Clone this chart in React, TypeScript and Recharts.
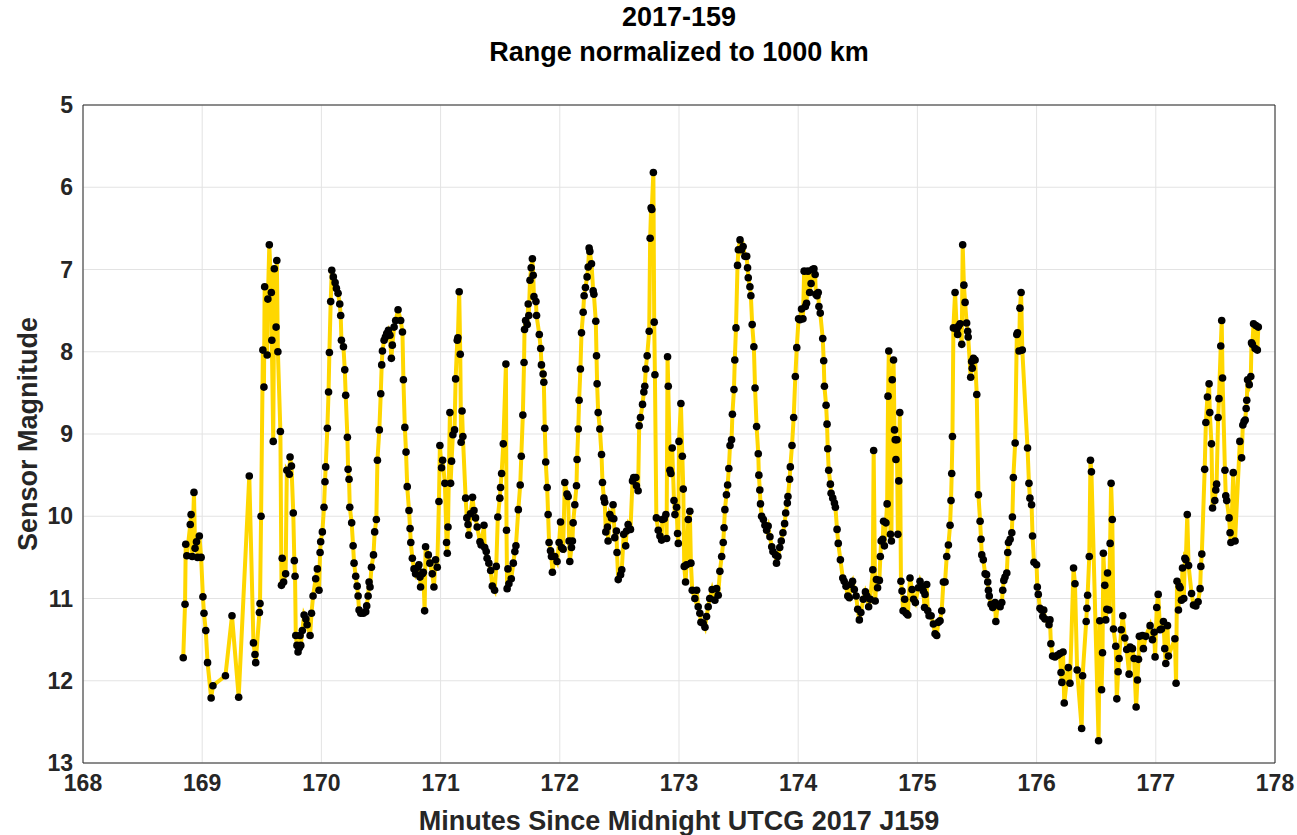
import React from 'react';
import { LineChart, Line, XAxis, YAxis, CartesianGrid, Label } from 'recharts';

// minutes since midnight, sensor magnitude
const samples169 = [
  [168.841, 11.72], [168.856, 11.07], [168.862, 10.34], [168.871, 10.48], [168.900, 10.10], [168.907, 9.98],
  [168.916, 10.49], [168.931, 9.71], [168.940, 10.39], [168.952, 10.31], [168.961, 10.50], [168.976, 10.24],
  [168.991, 10.50], [169.006, 10.98], [169.015, 11.18], [169.030, 11.39], [169.045, 11.78], [169.075, 12.21],
  [169.090, 12.06], [169.195, 11.94], [169.250, 11.21], [169.306, 12.20], [169.395, 9.51], [169.430, 11.54],
  [169.443, 11.68], [169.449, 11.78], [169.480, 11.17], [169.485, 11.06], [169.494, 10.00], [169.509, 7.98],
  [169.518, 8.43], [169.524, 7.21], [169.545, 8.04], [169.551, 7.36], [169.563, 6.70], [169.580, 7.28],
  [169.584, 7.86], [169.596, 9.09], [169.605, 6.99], [169.620, 7.70], [169.626, 6.89], [169.635, 8.00],
  [169.656, 8.97], [169.665, 10.84], [169.671, 10.51], [169.683, 10.80], [169.700, 10.70], [169.710, 9.44],
  [169.731, 9.49], [169.737, 9.28], [169.749, 9.39], [169.764, 9.96], [169.773, 10.54], [169.779, 10.73],
  [169.785, 11.45], [169.795, 11.57], [169.804, 11.65], [169.815, 11.60], [169.821, 11.45], [169.827, 11.57],
  [169.840, 11.39], [169.855, 11.20], [169.870, 11.25], [169.880, 11.32], [169.905, 11.45], [169.917, 11.18],
  [169.930, 10.97], [169.952, 10.76], [169.966, 10.64], [169.980, 10.90], [169.989, 10.44], [169.994, 10.31],
];

const samples170 = [
  [170.008, 10.19], [170.022, 9.89], [170.030, 9.58], [170.036, 9.40], [170.050, 8.93], [170.060, 8.49],
  [170.067, 8.01], [170.078, 7.39], [170.087, 7.01], [170.100, 7.09], [170.115, 7.16], [170.126, 7.23],
  [170.140, 7.29], [170.154, 7.42], [170.162, 7.56], [170.168, 7.86], [170.185, 7.94], [170.196, 8.22],
  [170.204, 8.53], [170.218, 9.04], [170.224, 9.43], [170.232, 9.55], [170.238, 9.89], [170.254, 10.08],
  [170.266, 10.36], [170.274, 10.57], [170.288, 10.73], [170.300, 10.85], [170.308, 10.97], [170.316, 11.14],
  [170.330, 11.18], [170.352, 11.18], [170.372, 11.16], [170.380, 11.09], [170.392, 10.97], [170.400, 10.80],
  [170.408, 10.86], [170.420, 10.62], [170.437, 10.47], [170.447, 10.19], [170.461, 10.04], [170.470, 9.32],
  [170.486, 8.95], [170.498, 8.51], [170.506, 8.16], [170.512, 7.99], [170.526, 7.86], [170.537, 7.82],
  [170.548, 7.78], [170.562, 7.74], [170.575, 7.80], [170.587, 8.08], [170.595, 7.92], [170.610, 7.70],
  [170.623, 7.62], [170.643, 7.49], [170.665, 7.62], [170.680, 7.76], [170.688, 8.34], [170.700, 8.92],
  [170.710, 9.22], [170.720, 9.64], [170.735, 9.93], [170.744, 10.15], [170.750, 10.32], [170.763, 10.51],
  [170.777, 10.64], [170.790, 10.70], [170.810, 10.62], [170.818, 10.59], [170.827, 10.74], [170.832, 10.86],
  [170.847, 10.70], [170.855, 10.68], [170.866, 11.15], [170.874, 10.37], [170.897, 10.47], [170.910, 10.57],
  [170.930, 10.70], [170.944, 10.86], [170.958, 10.53], [170.972, 10.62], [170.986, 9.82], [170.994, 9.14],
];

const samples171 = [
  [171.008, 9.41], [171.017, 9.32], [171.036, 9.60], [171.050, 10.32], [171.056, 10.45], [171.062, 10.13],
  [171.078, 8.74], [171.084, 9.60], [171.092, 9.33], [171.103, 9.01], [171.117, 8.95], [171.126, 8.33],
  [171.140, 7.86], [171.145, 7.83], [171.156, 7.27], [171.165, 8.03], [171.172, 9.10], [171.180, 8.72],
  [171.187, 9.03], [171.210, 9.78], [171.220, 10.02], [171.230, 10.10], [171.237, 10.23], [171.250, 9.97],
  [171.268, 9.77], [171.280, 9.93], [171.293, 10.02], [171.307, 10.13], [171.330, 10.31], [171.340, 10.35],
  [171.364, 10.11], [171.370, 10.38], [171.383, 10.43], [171.390, 10.51], [171.405, 10.57], [171.420, 10.66],
  [171.434, 10.85], [171.453, 10.90], [171.467, 10.61], [171.480, 10.01], [171.497, 9.78], [171.503, 9.65],
  [171.512, 9.48], [171.526, 9.12], [171.548, 8.15], [171.553, 10.17], [171.558, 10.88], [171.565, 10.64],
  [171.573, 10.82], [171.593, 10.76], [171.610, 10.57], [171.623, 10.43], [171.632, 10.36], [171.652, 9.92],
  [171.668, 9.62], [171.677, 9.27], [171.690, 8.77], [171.700, 8.13], [171.704, 7.73], [171.713, 7.62],
  [171.727, 7.67], [171.735, 7.42], [171.740, 7.56], [171.750, 7.13], [171.760, 6.98], [171.770, 6.87],
  [171.777, 7.07], [171.783, 7.33], [171.800, 7.39], [171.805, 7.56], [171.828, 7.79], [171.840, 7.96],
  [171.846, 8.16], [171.860, 8.27], [171.866, 8.37], [171.874, 8.93], [171.882, 9.34], [171.894, 9.65],
  [171.902, 9.98], [171.910, 10.32], [171.922, 10.42], [171.930, 10.49], [171.938, 10.68], [171.958, 10.49],
  [171.977, 10.55], [171.994, 10.32],
];

const samples172 = [
  [172.006, 10.07], [172.014, 10.38], [172.028, 10.40], [172.042, 9.59], [172.060, 9.73], [172.070, 9.76],
  [172.078, 10.30], [172.084, 10.55], [172.098, 10.38], [172.106, 10.30], [172.112, 10.08], [172.126, 9.86],
  [172.140, 9.63], [172.145, 9.31], [172.155, 8.94], [172.162, 8.59], [172.173, 8.21], [172.182, 7.77],
  [172.196, 7.52], [172.204, 7.32], [172.215, 7.22], [172.229, 7.09], [172.238, 6.97], [172.246, 6.74],
  [172.252, 6.78], [172.266, 6.93], [172.280, 7.26], [172.286, 7.30], [172.302, 7.63], [172.308, 8.05],
  [172.313, 8.39], [172.322, 8.74], [172.336, 8.94], [172.350, 9.25], [172.358, 9.59], [172.370, 9.78],
  [172.377, 9.83], [172.386, 10.19], [172.400, 10.13], [172.405, 10.30], [172.420, 9.98], [172.433, 10.02],
  [172.447, 9.86], [172.453, 10.03], [172.461, 10.26], [172.475, 10.18], [172.480, 10.44], [172.490, 10.77],
  [172.510, 10.71], [172.520, 10.65], [172.536, 10.22], [172.553, 10.36], [172.560, 10.18], [172.573, 10.10],
  [172.593, 10.16], [172.610, 9.57], [172.620, 9.53], [172.638, 9.53], [172.643, 9.63], [172.657, 9.69],
  [172.666, 8.90], [172.677, 8.80], [172.694, 8.64], [172.705, 8.49], [172.713, 8.42], [172.721, 8.21],
  [172.733, 8.05], [172.750, 7.75], [172.758, 6.62], [172.766, 6.25], [172.772, 6.27], [172.785, 5.82],
  [172.792, 7.64], [172.798, 8.28], [172.810, 10.02], [172.826, 10.17], [172.840, 10.24], [172.854, 10.29],
  [172.860, 10.04], [172.876, 10.03], [172.890, 9.98], [172.896, 10.27], [172.904, 8.06], [172.910, 8.42],
  [172.924, 9.44], [172.932, 9.48], [172.943, 9.17], [172.958, 9.81], [172.966, 9.98], [172.980, 9.89],
  [172.988, 10.21], [172.994, 10.33],
];

const samples173 = [
  [173.000, 9.09], [173.016, 8.63], [173.028, 9.27], [173.036, 9.67], [173.044, 10.61], [173.055, 10.80],
  [173.063, 10.59], [173.078, 10.04], [173.091, 9.94], [173.100, 10.57], [173.111, 10.90], [173.133, 11.00],
  [173.148, 10.90], [173.161, 11.10], [173.175, 11.18], [173.184, 11.29], [173.203, 11.30], [173.218, 11.35],
  [173.231, 11.22], [173.245, 11.10], [173.258, 11.00], [173.278, 10.89], [173.301, 11.02], [173.315, 10.88],
  [173.329, 10.96], [173.343, 10.67], [173.358, 10.49], [173.371, 10.32], [173.378, 10.14], [173.385, 9.92],
  [173.398, 9.74], [173.408, 9.62], [173.418, 9.42], [173.428, 9.14], [173.441, 9.07], [173.448, 8.76],
  [173.461, 8.46], [173.468, 8.10], [173.478, 7.71], [173.491, 6.95], [173.498, 6.76], [173.512, 6.64],
  [173.524, 6.76], [173.538, 6.72], [173.553, 6.84], [173.568, 6.84], [173.575, 6.98], [173.581, 7.10],
  [173.595, 7.21], [173.603, 7.32], [173.614, 7.67], [173.628, 7.94], [173.638, 8.44], [173.651, 8.91],
  [173.665, 9.24], [173.670, 9.50], [173.678, 9.68], [173.684, 9.85], [173.693, 10.00], [173.708, 10.04],
  [173.721, 10.11], [173.735, 10.17], [173.748, 10.12], [173.763, 10.25], [173.778, 10.37], [173.788, 10.43],
  [173.810, 10.47], [173.818, 10.57], [173.830, 10.49], [173.845, 10.38], [173.858, 10.30], [173.872, 10.20],
  [173.886, 10.09], [173.895, 9.96], [173.909, 9.84], [173.914, 9.76], [173.928, 9.55], [173.934, 9.40],
  [173.948, 9.14], [173.962, 8.80], [173.976, 8.30], [173.988, 7.95],
];

const samples174 = [
  [174.003, 7.60], [174.014, 7.61], [174.028, 7.48], [174.040, 7.60], [174.050, 7.02], [174.060, 7.45],
  [174.070, 7.41], [174.082, 7.02], [174.096, 7.28], [174.108, 7.17], [174.120, 7.00], [174.132, 6.99],
  [174.142, 7.06], [174.148, 7.30], [174.158, 7.32], [174.168, 7.28], [174.174, 7.45], [174.185, 7.53],
  [174.206, 7.84], [174.214, 8.11], [174.220, 8.42], [174.234, 8.65], [174.242, 8.88], [174.248, 9.18],
  [174.256, 9.44], [174.270, 9.61], [174.276, 9.72], [174.290, 9.78], [174.304, 9.84], [174.312, 9.89],
  [174.326, 10.16], [174.336, 10.33], [174.354, 10.53], [174.374, 10.75], [174.386, 10.79], [174.401, 10.85],
  [174.416, 10.97], [174.429, 10.99], [174.443, 10.83], [174.456, 10.79], [174.471, 10.89], [174.486, 10.97],
  [174.499, 11.13], [174.513, 11.26], [174.526, 11.17], [174.546, 11.01], [174.564, 10.92], [174.576, 10.97],
  [174.591, 11.10], [174.604, 11.01], [174.626, 10.65], [174.633, 9.20], [174.646, 11.03], [174.656, 10.77],
  [174.666, 10.87], [174.681, 10.78], [174.689, 10.49], [174.696, 10.30], [174.709, 10.28], [174.716, 10.06],
  [174.723, 10.36], [174.736, 10.08], [174.746, 9.85], [174.754, 8.54], [174.760, 7.99], [174.774, 10.22],
  [174.782, 10.30], [174.789, 8.34], [174.800, 8.10], [174.808, 8.95], [174.814, 9.07], [174.820, 9.31],
  [174.828, 9.07], [174.836, 10.22], [174.844, 9.57], [174.852, 8.74], [174.862, 10.79], [174.871, 10.91],
  [174.880, 11.15], [174.893, 11.01], [174.906, 11.18], [174.920, 11.20], [174.938, 10.75], [174.955, 10.89],
  [174.968, 11.01], [174.983, 11.05],
];

const samples175 = [
  [175.008, 10.87], [175.022, 10.79], [175.036, 10.85], [175.050, 10.91], [175.060, 11.11], [175.064, 10.95],
  [175.078, 10.83], [175.087, 11.15], [175.098, 11.21], [175.115, 11.21], [175.134, 11.31], [175.148, 11.43],
  [175.162, 11.45], [175.176, 11.29], [175.190, 11.27], [175.204, 11.15], [175.218, 10.80], [175.232, 10.80],
  [175.246, 10.49], [175.260, 10.35], [175.274, 10.11], [175.282, 9.81], [175.288, 9.48], [175.294, 9.03],
  [175.302, 7.71], [175.316, 7.28], [175.330, 7.73], [175.338, 7.79], [175.344, 7.69], [175.358, 7.66],
  [175.372, 7.91], [175.380, 6.70], [175.390, 7.19], [175.400, 7.40], [175.413, 7.65], [175.422, 7.75],
  [175.426, 7.82], [175.447, 8.31], [175.455, 8.12], [175.460, 8.20], [175.470, 8.08], [175.484, 8.10],
  [175.498, 8.52], [175.512, 9.74], [175.526, 10.06], [175.534, 10.28], [175.540, 10.47], [175.553, 10.53],
  [175.568, 10.70], [175.580, 10.71], [175.590, 10.80], [175.596, 10.90], [175.603, 10.97], [175.618, 11.07],
  [175.632, 11.11], [175.652, 11.05], [175.658, 11.28], [175.674, 11.08], [175.694, 11.10], [175.708, 11.05],
  [175.716, 10.90], [175.725, 10.78], [175.735, 10.74], [175.750, 10.69], [175.758, 10.44], [175.764, 10.32],
  [175.778, 10.28], [175.792, 10.20], [175.797, 10.01], [175.805, 9.53], [175.820, 9.11], [175.834, 7.79],
  [175.840, 7.77], [175.853, 7.99], [175.860, 7.47], [175.870, 7.28], [175.880, 7.98], [175.924, 9.17],
  [175.936, 9.60], [175.944, 9.78], [175.958, 9.86], [175.966, 10.24], [175.978, 10.56],
];

const samples176 = [
  [176.000, 10.59], [176.006, 10.86], [176.014, 10.95], [176.028, 11.12], [176.042, 11.14], [176.052, 11.22],
  [176.060, 11.14], [176.070, 11.25], [176.104, 11.32], [176.112, 11.26], [176.120, 11.55], [176.134, 11.70],
  [176.154, 11.71], [176.176, 11.69], [176.196, 11.67], [176.205, 11.90], [176.212, 12.02], [176.222, 11.65],
  [176.232, 12.27], [176.266, 11.84], [176.280, 12.03], [176.310, 10.63], [176.322, 10.82], [176.340, 11.87],
  [176.378, 12.58], [176.386, 11.94], [176.416, 11.28], [176.422, 11.12], [176.428, 10.96], [176.442, 10.49],
  [176.452, 9.32], [176.460, 9.46], [176.520, 12.73], [176.530, 11.27], [176.545, 12.11], [176.553, 11.66],
  [176.560, 10.45], [176.572, 10.84], [176.580, 11.26], [176.589, 11.13], [176.595, 10.69], [176.607, 11.14],
  [176.617, 10.33], [176.625, 9.60], [176.635, 10.04], [176.645, 11.37], [176.664, 11.58], [176.673, 12.22],
  [176.684, 11.89], [176.692, 11.73], [176.710, 11.38], [176.723, 11.21], [176.740, 11.48], [176.756, 11.62],
  [176.776, 11.92], [176.785, 11.59], [176.804, 11.61], [176.818, 11.73], [176.835, 12.32], [176.846, 11.99],
  [176.855, 11.74], [176.862, 11.46], [176.888, 11.45], [176.896, 11.61], [176.916, 11.46], [176.952, 11.33],
  [176.972, 11.50], [176.986, 11.41], [176.994, 11.71],
];

const samples177 = [
  [177.008, 11.11], [177.020, 10.95], [177.036, 11.38], [177.048, 11.37], [177.064, 11.28], [177.075, 11.61],
  [177.084, 11.79], [177.098, 11.33], [177.106, 11.70], [177.160, 11.49], [177.170, 12.03], [177.178, 10.79],
  [177.190, 11.14], [177.196, 10.85], [177.204, 10.87], [177.215, 11.02], [177.224, 10.63], [177.235, 11.00],
  [177.244, 10.51], [177.252, 10.53], [177.264, 9.98], [177.275, 10.60], [177.300, 10.94], [177.316, 11.08],
  [177.336, 11.09], [177.355, 11.04], [177.372, 10.88], [177.378, 10.61], [177.386, 10.46], [177.410, 9.43],
  [177.420, 8.86], [177.433, 8.55], [177.447, 8.39], [177.453, 8.74], [177.467, 9.12], [177.476, 9.90],
  [177.495, 9.81], [177.503, 9.68], [177.510, 9.61], [177.523, 8.80], [177.530, 8.57], [177.545, 7.93],
  [177.553, 7.62], [177.560, 8.32], [177.580, 9.44], [177.587, 9.75], [177.595, 9.81], [177.615, 10.02],
  [177.623, 10.20], [177.630, 10.32], [177.650, 9.47], [177.665, 10.30], [177.705, 9.09], [177.720, 9.29],
  [177.730, 8.89], [177.740, 8.85], [177.750, 8.83], [177.758, 8.69], [177.763, 8.59], [177.770, 8.34],
  [177.784, 8.40], [177.797, 8.30], [177.803, 7.89], [177.810, 7.91], [177.820, 7.66], [177.833, 7.96],
  [177.840, 7.68], [177.852, 7.98], [177.860, 7.70],
];

const xTicks = [168, 169, 170, 171, 172, 173, 174, 175, 176, 177, 178];
const yTicks = [5, 6, 7, 8, 9, 10, 11, 12, 13];

const titleLines = ['2017-159', 'Range normalized to 1000 km'];
const xLabel = 'Minutes Since Midnight UTCG 2017 J159';
const yLabel = 'Sensor Magnitude';

const data = [
  ...samples169, ...samples170, ...samples171, ...samples172, ...samples173,
  ...samples174, ...samples175, ...samples176, ...samples177,
].map(([t, m]) => ({ t, m }));

const FONT = '"Liberation Sans", Arial, Helvetica, sans-serif';
const INK = '#262626';
const tickStyle = { fontSize: 23, fontWeight: 700, fill: INK, fontFamily: FONT };
const labelStyle = { fontSize: 27, fontWeight: 700, fill: INK, fontFamily: FONT, textAnchor: 'middle' as const };

export default function App() {
  return (
    <div style={{ position: 'absolute', left: 0, top: 0, width: 1297, height: 835, background: '#fff', fontFamily: FONT }}>
      {titleLines.map((line, i) => (
        <div
          key={line}
          style={{
            position: 'absolute', left: 83, width: 1192, top: 4 + i * 35, textAlign: 'center',
            fontSize: 27, lineHeight: '27px', fontWeight: 700, color: '#000',
          }}
        >
          {line}
        </div>
      ))}
      <LineChart width={1297} height={835} data={data} margin={{ top: 105, right: 22, bottom: 0, left: 0 }}>
        <CartesianGrid xAxisId="main" yAxisId="main" stroke="#e3e3e3" strokeWidth={1} />
        <XAxis
          xAxisId="main" dataKey="t" type="number" domain={[168, 178]} ticks={xTicks} interval={0}
          allowDataOverflow height={72} axisLine={false} tickLine={false} tickSize={0} tickMargin={12} tick={tickStyle}
        >
          <Label value={xLabel} position="insideBottom" offset={5} style={labelStyle} />
        </XAxis>
        <YAxis
          yAxisId="main" type="number" domain={[5, 13]} reversed ticks={yTicks} interval={0}
          allowDataOverflow width={83} axisLine={false} tickLine={false} tickSize={0} tickMargin={10} tick={tickStyle}
        >
          <Label value={yLabel} angle={-90} position="insideLeft" offset={27} style={labelStyle} />
        </YAxis>
        {/* box with inward ticks, MATLAB style */}
        <XAxis xAxisId="boxBottom" type="number" orientation="bottom" mirror domain={[168, 178]} ticks={xTicks}
          interval={0} tick={false} tickSize={10} axisLine={{ stroke: INK }} tickLine={{ stroke: INK }} />
        <XAxis xAxisId="boxTop" type="number" orientation="top" mirror domain={[168, 178]} ticks={xTicks}
          interval={0} tick={false} tickSize={10} axisLine={{ stroke: INK }} tickLine={{ stroke: INK }} />
        <YAxis yAxisId="boxLeft" type="number" orientation="left" mirror domain={[5, 13]} reversed ticks={yTicks}
          interval={0} tick={false} tickSize={10} axisLine={{ stroke: INK }} tickLine={{ stroke: INK }} />
        <YAxis yAxisId="boxRight" type="number" orientation="right" mirror domain={[5, 13]} reversed ticks={yTicks}
          interval={0} tick={false} tickSize={10} axisLine={{ stroke: INK }} tickLine={{ stroke: INK }} />
        <Line
          xAxisId="main" yAxisId="main" type="linear" dataKey="m" stroke="#FFD700" strokeWidth={4}
          dot={{ r: 3.8, fill: '#000', stroke: '#000', strokeWidth: 0 }} activeDot={false} isAnimationActive={false}
        />
      </LineChart>
    </div>
  );
}
